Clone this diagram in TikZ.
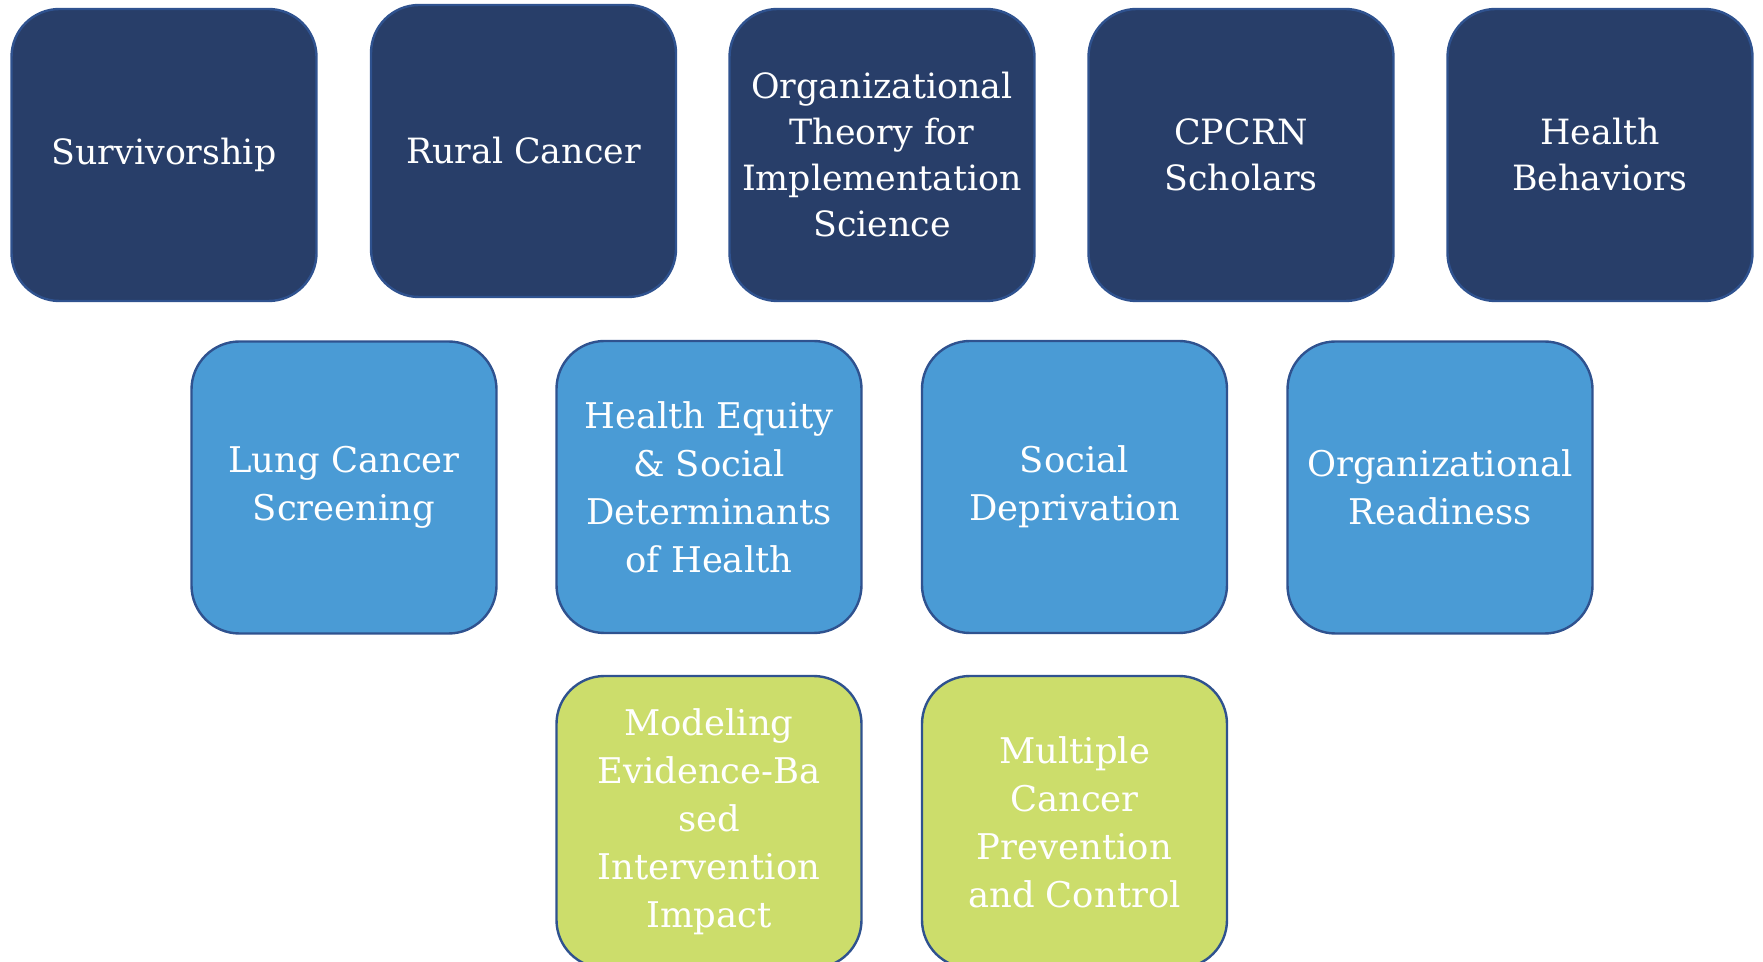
\documentclass[tikz,border=0pt]{standalone}
\usepackage{fontspec}
\setmainfont{DejaVu Serif}
\usepackage{tikz}

\definecolor{navy}{RGB}{40,62,105}
\definecolor{skyblue}{RGB}{74,155,213}
\definecolor{lime}{RGB}{204,221,107}
\definecolor{rim}{RGB}{47,82,143}

\begin{document}
\begin{tikzpicture}[x=0.5pt, y=-0.5pt,
        topic/.style={draw=rim, line width=1.2pt, rounded corners=24pt, text=white,
            minimum width=152.5pt, minimum height=146pt, align=center, inner sep=2pt},
        core/.style={topic, fill=navy, font=\fontsize{17.4}{23}\selectfont},
        work/.style={topic, fill=skyblue, font=\fontsize{17.7}{24}\selectfont},
        new/.style={topic, fill=lime, font=\fontsize{17.7}{24}\selectfont}]
        \useasboundingbox (0,0) rectangle (1763,962);

        \node[core] (surv) at (164,155) {Survivorship};
        \node[core] (rural) at (523.5,151) {Rural Cancer};
        \node[core] (orgtheory) at (882,155) {Organizational\\Theory for\\Implementation\\Science};
        \node[core] (cpcrn) at (1241,155) {CPCRN\\Scholars};
        \node[core] (behav) at (1600,155) {Health\\Behaviors};

        \node[work] (lung) at (344,487.5) {Lung Cancer\\Screening};
        \node[work] (equity) at (709,487) {Health Equity\\\& Social\\Determinants\\of Health};
        \node[work] (depriv) at (1074.5,487) {Social\\Deprivation};
        \node[work] (readiness) at (1440,487.5) {Organizational\\Readiness};

        \node[new] (modeling) at (709,822) {Modeling\\Evidence-Ba\\sed\\Intervention\\Impact};
        \node[new] (multiple) at (1074.5,822) {Multiple\\Cancer\\Prevention\\and Control};
    \end{tikzpicture}
\end{document}
